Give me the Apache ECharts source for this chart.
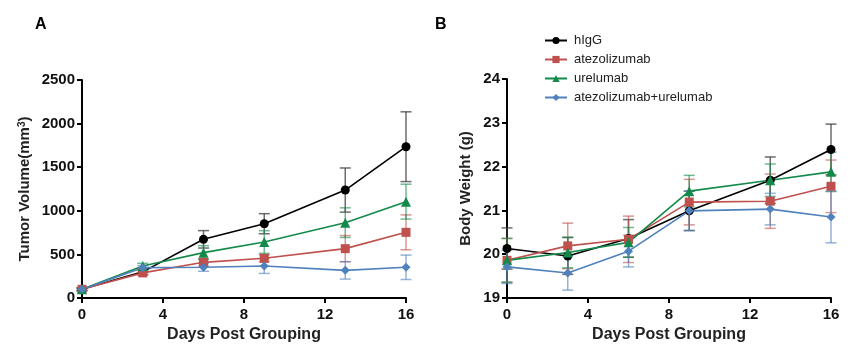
<!DOCTYPE html>
<html>
<head>
<meta charset="utf-8">
<script src="https://cdn.jsdelivr.net/npm/echarts@6/dist/echarts.min.js"></script>
<style>
html,body{margin:0;padding:0;background:#fff;}
#chart{width:853px;height:354px;}
</style>
</head>
<body>
<div id="chart"></div>
<script>
// ---- data ----
const days = [0, 3, 6, 9, 13, 16];
const groupNames = ['hIgG', 'atezolizumab', 'urelumab', 'atezolizumab+urelumab'];

// Tumor volume (mm^3): mean and SEM
const tumorHIgG      = [100, 300, 673, 852, 1238, 1735];
const tumorHIgGErr   = [15, 30, 100, 115, 253, 400];
const tumorAtezo     = [100, 288, 409, 455, 566, 753];
const tumorAtezoErr  = [15, 25, 40, 40, 150, 200];
const tumorUrel      = [100, 368, 520, 642, 864, 1105];
const tumorUrelErr   = [15, 30, 80, 130, 170, 200];
const tumorCombo     = [100, 348, 352, 367, 317, 352];
const tumorComboErr  = [15, 25, 45, 85, 100, 140];

// Body weight (g): mean and SEM
const weightHIgG     = [20.13, 19.96, 20.36, 20.99, 21.69, 22.39];
const weightHIgGErr  = [0.47, 0.42, 0.43, 0.45, 0.53, 0.58];
const weightAtezo    = [19.86, 20.19, 20.34, 21.19, 21.21, 21.55];
const weightAtezoErr = [0.50, 0.52, 0.53, 0.52, 0.62, 0.60];
const weightUrel     = [19.86, 20.04, 20.27, 21.44, 21.69, 21.88];
const weightUrelErr  = [0.50, 0.35, 0.34, 0.36, 0.37, 0.45];
const weightCombo    = [19.71, 19.57, 20.07, 20.99, 21.03, 20.85];
const weightComboErr = [0.38, 0.39, 0.36, 0.45, 0.36, 0.59];

const xTicks = [0, 4, 8, 12, 16];

// ---- styling ----
const colors = ['#000000', '#c0504d', '#138a4a', '#4f81bd'];
const barColors = ['rgba(60,60,60,0.75)', 'rgba(192,80,77,0.6)', 'rgba(19,138,74,0.6)', 'rgba(79,129,189,0.6)'];
const symbols = ['circle', 'rect', 'triangle', 'diamond'];
const symSizes = [9, 9, 10, 9];
const FONT = '"Liberation Sans", Arial, sans-serif';

const tumorMeans = [tumorHIgG, tumorAtezo, tumorUrel, tumorCombo];
const tumorErrs = [tumorHIgGErr, tumorAtezoErr, tumorUrelErr, tumorComboErr];
const weightMeans = [weightHIgG, weightAtezo, weightUrel, weightCombo];
const weightErrs = [weightHIgGErr, weightAtezoErr, weightUrelErr, weightComboErr];

function errSeries(gi, means, errs, idx) {
  return {
    type: 'custom',
    name: groupNames[gi] + ' err',
    xAxisIndex: idx, yAxisIndex: idx,
    z: 1,
    silent: true,
    data: days.map((d, i) => [d, means[i] - errs[i], means[i] + errs[i]]),
    renderItem: function (params, api) {
      const x = api.value(0);
      const lo = api.coord([x, api.value(1)]);
      const hi = api.coord([x, api.value(2)]);
      const w = 5.5;
      const st = { stroke: barColors[gi], lineWidth: 1.5, fill: null };
      return {
        type: 'group',
        children: [
          { type: 'line', shape: { x1: lo[0], y1: lo[1], x2: hi[0], y2: hi[1] }, style: st },
          { type: 'line', shape: { x1: lo[0] - w, y1: lo[1], x2: lo[0] + w, y2: lo[1] }, style: st },
          { type: 'line', shape: { x1: hi[0] - w, y1: hi[1], x2: hi[0] + w, y2: hi[1] }, style: st }
        ]
      };
    }
  };
}

function lineSeries(gi, means, idx) {
  return {
    type: 'line',
    name: groupNames[gi],
    xAxisIndex: idx, yAxisIndex: idx,
    z: 3,
    data: days.map((d, i) => [d, means[i]]),
    symbol: symbols[gi],
    symbolSize: symSizes[gi],
    showAllSymbol: true,
    lineStyle: { color: colors[gi], width: 1.6 },
    itemStyle: { color: colors[gi] },
    emphasis: { disabled: true },
    animation: false
  };
}

const series = [];
for (let g = 0; g < 4; g++) series.push(errSeries(g, tumorMeans[g], tumorErrs[g], 0));
for (let g = 0; g < 4; g++) series.push(errSeries(g, weightMeans[g], weightErrs[g], 1));
for (let g = 0; g < 4; g++) series.push(lineSeries(g, tumorMeans[g], 0));
for (let g = 0; g < 4; g++) series.push(lineSeries(g, weightMeans[g], 1));

function plain(v) { return String(v); }

function xAxis(gi) {
  return {
    type: 'value', gridIndex: gi, min: 0, max: 16, interval: 4,
    name: 'Days Post Grouping', nameLocation: 'middle', nameGap: 27,
    nameTextStyle: { fontFamily: FONT, fontWeight: 'bold', fontSize: 16, color: '#222' },
    axisLine: { lineStyle: { color: '#000', width: 2 } },
    axisTick: { show: true, length: 5, lineStyle: { color: '#000', width: 2 } },
    axisLabel: { fontFamily: FONT, fontWeight: 'bold', fontSize: 15, color: '#111', margin: 9, formatter: plain },
    splitLine: { show: false }
  };
}

const option = {
  backgroundColor: '#fff',
  animation: false,
  title: [
    { text: 'A', left: 30, top: 12, textStyle: { fontFamily: FONT, fontWeight: 'bold', fontSize: 16, color: '#000' } },
    { text: 'B', left: 430, top: 12, textStyle: { fontFamily: FONT, fontWeight: 'bold', fontSize: 16, color: '#000' } }
  ],
  legend: {
    orient: 'vertical', left: 539, top: 29,
    itemWidth: 22, itemHeight: 9, itemGap: 6,
    data: groupNames,
    textStyle: { fontFamily: FONT, fontSize: 13, color: '#222', padding: [0, 0, 0, 2] }
  },
  grid: [
    { left: 82, right: 447, top: 80, bottom: 56 },
    { left: 507, right: 22, top: 79, bottom: 56 }
  ],
  xAxis: [xAxis(0), xAxis(1)],
  yAxis: [
    {
      type: 'value', gridIndex: 0, min: 0, max: 2500, interval: 500,
      name: 'Tumor Volume(mm{sup|3})', nameLocation: 'middle', nameGap: 49,
      nameTextStyle: { fontFamily: FONT, fontWeight: 'bold', fontSize: 15, color: '#222',
        rich: { sup: { fontFamily: FONT, fontWeight: 'bold', fontSize: 10, color: '#222', verticalAlign: 'top', padding: [0,0,6,0] } } },
      axisLine: { show: true, lineStyle: { color: '#000', width: 2 } },
      axisTick: { show: true, length: 5, lineStyle: { color: '#000', width: 2 } },
      axisLabel: { fontFamily: FONT, fontWeight: 'bold', fontSize: 15, color: '#111', margin: 7, formatter: plain },
      splitLine: { show: false }
    },
    {
      type: 'value', gridIndex: 1, min: 19, max: 24, interval: 1,
      name: 'Body Weight (g)', nameLocation: 'middle', nameGap: 34,
      nameTextStyle: { fontFamily: FONT, fontWeight: 'bold', fontSize: 15, color: '#222' },
      axisLine: { show: true, lineStyle: { color: '#000', width: 2 } },
      axisTick: { show: true, length: 5, lineStyle: { color: '#000', width: 2 } },
      axisLabel: { fontFamily: FONT, fontWeight: 'bold', fontSize: 15, color: '#111', margin: 7, formatter: plain },
      splitLine: { show: false }
    }
  ],
  series: series
};

const chart = echarts.init(document.getElementById('chart'), null, { renderer: 'canvas' });
chart.setOption(option);
</script>
</body>
</html>
